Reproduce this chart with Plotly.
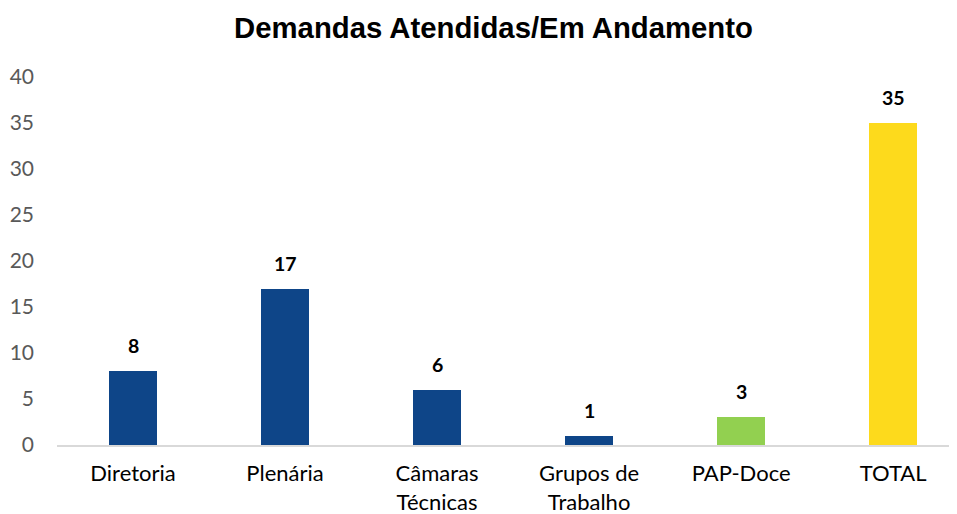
import plotly.graph_objects as go

categories = ["Diretoria", "Plenária", "Câmaras<br>Técnicas", "Grupos de<br>Trabalho", "PAP-Doce", "TOTAL"]
values = [8, 17, 6, 1, 3, 35]
colors = ["#0E4588", "#0E4588", "#0E4588", "#0E4588", "#92D050", "#FDDA1C"]
y_ticks = [0, 5, 10, 15, 20, 25, 30, 35, 40]

xpos = list(range(len(categories)))

# the page body has an 8px default margin, so the figure is sized to fit inside the window
W, H = 949, 506

fig = go.Figure(go.Bar(
    x=xpos,
    y=values,
    marker=dict(color=colors, line=dict(width=0)),
    width=0.316,
    hoverinfo="skip",
))

for xi, v in zip(xpos, values):
    fig.add_annotation(
        x=xi, y=v, xref="x", yref="y", text=f"<b>{v}</b>", showarrow=False,
        yanchor="middle", yshift=25.5,
        font=dict(family="Lato", size=19.5, color="#000000"),
    )

fig.update_layout(
    width=W, height=H,
    margin=dict(l=49, r=0, t=69, b=69),
    paper_bgcolor="white", plot_bgcolor="white",
    title=dict(text="<b>Demandas Atendidas/Em Andamento</b>", x=485.5 / W, xanchor="center",
               y=1 - 20 / H, yanchor="middle",
               font=dict(family="Liberation Sans", size=29.3, color="#000000")),
    showlegend=False,
    bargap=0,
)
fig.update_xaxes(
    tickmode="array", tickvals=xpos, ticktext=categories,
    range=[-0.5, 5.42], showgrid=False, showline=True, linecolor="#D9D9D9", linewidth=1.5,
    ticks="", ticklabelstandoff=8, automargin=False,
    tickfont=dict(family="Lato", size=22, color="#000000"),
)
fig.update_yaxes(
    range=[0, 40], tickvals=y_ticks, showgrid=False, zeroline=False, showline=False,
    ticks="", ticklabelstandoff=22, automargin=False,
    tickfont=dict(family="Lato", size=21, color="#595959"),
)

fig.write_html("out.html")
